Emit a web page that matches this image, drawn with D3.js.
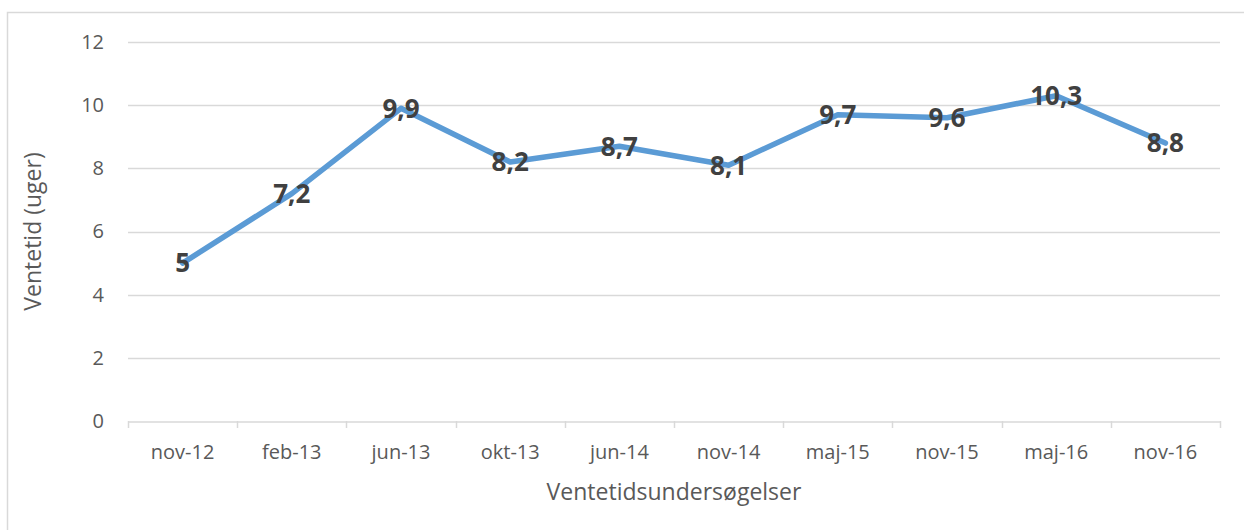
<!DOCTYPE html>
<html>
<head>
<meta charset="utf-8">
<script src="https://cdn.jsdelivr.net/npm/d3@7"></script>
<style>
  body { margin: 0; background: #fff; }
  text { font-family: "Open Sans", sans-serif; }
</style>
</head>
<body>
<svg id="chart" width="1244" height="530"></svg>
<script>
// survey rounds and waiting time (weeks)
const categories = ["nov-12", "feb-13", "jun-13", "okt-13", "jun-14", "nov-14", "maj-15", "nov-15", "maj-16", "nov-16"];
const values = [5, 7.2, 9.9, 8.2, 8.7, 8.1, 9.7, 9.6, 10.3, 8.8];
const yTicks = [0, 2, 4, 6, 8, 10, 12];

const svg = d3.select("#chart");
const margin = { left: 128, right: 24, top: 42, bottom: 109 };
const W = 1244, H = 530;

// outer chart frame (cut off at right and bottom)
svg.append("rect")
  .attr("x", 7.5).attr("y", 12.5)
  .attr("width", 1300).attr("height", 600)
  .attr("fill", "none")
  .attr("stroke", "#d9d9d9")
  .attr("stroke-width", 1.5);

let x = d3.scaleBand()
  .domain(categories)
  .range([margin.left, W - margin.right]);

let y = d3.scaleLinear()
  .domain([0, 12])
  .range([H - margin.bottom, margin.top]);

// gridlines
svg.append("g")
  .selectAll("line")
  .data(yTicks.filter(d => d > 0))
  .join("line")
  .attr("x1", margin.left).attr("x2", W - margin.right)
  .attr("y1", d => Math.round(y(d)) + 0.5).attr("y2", d => Math.round(y(d)) + 0.5)
  .attr("stroke", "#d9d9d9")
  .attr("stroke-width", 1.3);

// y axis labels
let yAxis = svg.append("g")
  .attr("transform", `translate(${margin.left},0)`)
  .call(d3.axisLeft(y).tickValues(yTicks).tickSize(0).tickPadding(24));
yAxis.select(".domain").remove();
yAxis.selectAll("text")
  .attr("fill", "#595959")
  .style("font-size", "20px")
  .style("font-family", "Open Sans, sans-serif");

// x axis
let xAxis = svg.append("g")
  .attr("transform", `translate(0,${Math.round(y(0)) + 0.5})`)
  .call(d3.axisBottom(x).tickSizeOuter(0).tickSize(0).tickPadding(23));
xAxis.select(".domain")
  .attr("stroke", "#d9d9d9")
  .attr("stroke-width", 1.5);
xAxis.selectAll("text")
  .attr("fill", "#595959")
  .style("font-size", "20px")
  .style("font-family", "Open Sans, sans-serif");

// category boundary ticks
const bounds = categories.map(c => x(c)).concat([W - margin.right]);
svg.append("g")
  .selectAll("line")
  .data(bounds)
  .join("line")
  .attr("x1", d => Math.round(d) + 0.5).attr("x2", d => Math.round(d) + 0.5)
  .attr("y1", y(0)).attr("y2", y(0) + 7)
  .attr("stroke", "#d9d9d9")
  .attr("stroke-width", 1.5);

// axis titles
svg.append("text")
  .attr("x", (margin.left + W - margin.right) / 2)
  .attr("y", 500)
  .attr("text-anchor", "middle")
  .attr("fill", "#595959")
  .style("font-size", "23px")
  .text("Ventetidsundersøgelser");

svg.append("text")
  .attr("transform", `translate(41,${(y(0) + y(12)) / 2}) rotate(-90)`)
  .attr("text-anchor", "middle")
  .attr("fill", "#595959")
  .style("font-size", "23px")
  .text("Ventetid (uger)");

// line
let line = d3.line()
  .x(function (d, i)
  {
    return x(categories[i]) + x.bandwidth() / 2;
  })
  .y(function (d)
  {
    return y(d);
  });

svg.append("path")
  .datum(values)
  .attr("d", line)
  .attr("fill", "none")
  .attr("stroke", "#5b9bd5")
  .attr("stroke-width", 5.5)
  .attr("stroke-linejoin", "round")
  .attr("stroke-linecap", "round");

// data labels centered on points
svg.append("g")
  .selectAll("text")
  .data(values)
  .join("text")
  .attr("x", (d, i) => x(categories[i]) + x.bandwidth() / 2)
  .attr("y", d => y(d))
  .attr("dy", "0.36em")
  .attr("text-anchor", "middle")
  .attr("fill", "#404040")
  .style("font-size", "26px")
  .style("font-weight", "bold")
  .text(d => String(d).replace(".", ","));
</script>
</body>
</html>
